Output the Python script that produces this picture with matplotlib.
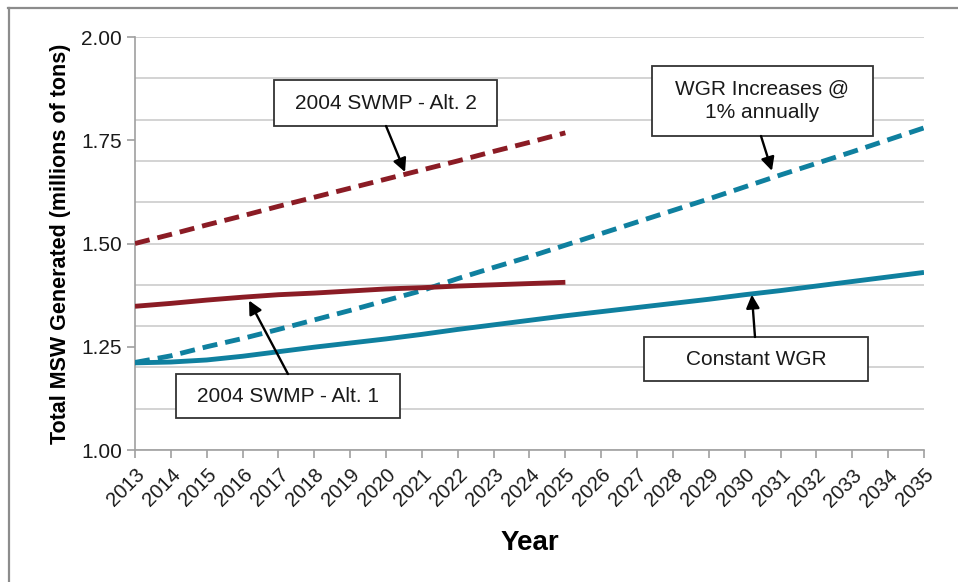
import numpy as np
import matplotlib
matplotlib.use('Agg')
import matplotlib.pyplot as plt
from matplotlib.lines import Line2D
from matplotlib.patches import Rectangle

plt.rcParams['font.family'] = ['Liberation Sans', 'DejaVu Sans']

# data
years = list(range(2013, 2036))
years_swmp = list(range(2013, 2026))
swmp_alt2 = [1.500, 1.522, 1.545, 1.567, 1.590, 1.612, 1.634, 1.656, 1.678,
             1.700, 1.723, 1.745, 1.768]
swmp_alt1 = [1.348, 1.355, 1.363, 1.370, 1.376, 1.380, 1.385, 1.390, 1.393,
             1.397, 1.400, 1.403, 1.406]
wgr_increase = [1.212, 1.228, 1.250, 1.270, 1.292, 1.315, 1.338, 1.362, 1.386,
                1.415, 1.442, 1.468, 1.496, 1.524, 1.552, 1.580, 1.608, 1.637,
                1.666, 1.694, 1.722, 1.751, 1.780]
wgr_constant = [1.211, 1.213, 1.218, 1.227, 1.238, 1.249, 1.259, 1.269, 1.280,
                1.292, 1.303, 1.314, 1.325, 1.335, 1.345, 1.355, 1.365, 1.376,
                1.386, 1.397, 1.408, 1.419, 1.430]
ytick_vals = [1.00, 1.25, 1.50, 1.75, 2.00]

red = '#8b1c25'
teal = '#0f809f'

fig = plt.figure(figsize=(9.58, 5.82), dpi=100)
ax = fig.add_axes([0.1409, 0.2268, 0.8236, 0.7096])

# outer frame (only top and left visible in the reference)
fig.add_artist(Line2D([8/958, 1], [1 - 8/582, 1 - 8/582], color='#8c8c8c', lw=1.6))
fig.add_artist(Line2D([9/958, 9/958], [0, 1 - 8/582], color='#8c8c8c', lw=1.6))

dash = (3.1, 1.65)
ax.plot(years, wgr_constant, color=teal, lw=3.5, solid_capstyle='butt', zorder=3)
ax.plot(years, wgr_increase, color=teal, lw=3.5, dashes=dash, dash_capstyle='butt', zorder=3)
ax.plot(years_swmp, swmp_alt1, color=red, lw=3.5, solid_capstyle='butt', zorder=3)
ax.plot(years_swmp, swmp_alt2, color=red, lw=3.5, dashes=dash, dash_capstyle='butt', zorder=3)

ax.set_xlim(2013, 2035)
ax.set_ylim(1.0, 2.0)
ax.set_xticks(years)
ax.set_xticklabels([str(y) for y in years], rotation=45, ha='right',
                   rotation_mode='anchor', fontsize=14.5)
ax.set_yticks(ytick_vals)
ax.set_yticklabels(['%.2f' % v for v in ytick_vals], fontsize=15)
ax.set_yticks(np.arange(1.0, 2.01, 0.1), minor=True)
ax.yaxis.remove_overlapping_locs = False
ax.tick_params(axis='y', which='minor', length=0)
ax.tick_params(axis='both', which='major', length=6, color='#a0a0a0', width=1.2,
               labelcolor='#1a1a1a')
ax.tick_params(axis='x', pad=5)
ax.grid(True, axis='y', which='minor', color='#c8c8c8', lw=1.1)
ax.set_axisbelow(True)
for s in ['top', 'right']:
    ax.spines[s].set_visible(False)
for s in ['left', 'bottom']:
    ax.spines[s].set_color('#a0a0a0')
    ax.spines[s].set_linewidth(1.2)

ax.set_xlabel('Year', fontsize=20, fontweight='bold', labelpad=14)
ax.set_ylabel('Total MSW Generated (millions of tons)', fontsize=15.5,
              fontweight='bold', labelpad=7)

arrow = dict(arrowstyle='-|>', color='black', lw=1.7, mutation_scale=20,
             shrinkA=0, shrinkB=0)

# callout boxes: (x0, x1, y0, y1), text, arrow start, arrow tip
callouts = [
    ((2016.876, 2023.094, 1.7845, 1.8959), '2004 SWMP - Alt. 2',
     (2020.00, 1.7845), (2020.53, 1.673)),
    ((2027.415, 2033.578, 1.7603, 1.9298), 'WGR Increases @\n1% annually',
     (2030.455, 1.7603), (2030.76, 1.676)),
    ((2014.143, 2020.389, 1.0775, 1.1840), '2004 SWMP - Alt. 1',
     (2017.266, 1.1840), (2016.18, 1.362)),
    ((2027.193, 2033.438, 1.1671, 1.2736), 'Constant WGR',
     (2030.288, 1.2736), (2030.20, 1.376)),
]
for (x0, x1, y0, y1), label, start, tip in callouts:
    ax.add_patch(Rectangle((x0, y0), x1 - x0, y1 - y0, fc='white', ec='#333333',
                           lw=1.3, zorder=5))
    ax.text((x0 + x1) / 2, (y0 + y1) / 2, label, ha='center', va='center',
            fontsize=15, color='#1a1a1a', linespacing=1.3, zorder=6)
    ax.annotate('', xy=tip, xytext=start, arrowprops=arrow, zorder=6)

fig.savefig('out.png', dpi=100)
